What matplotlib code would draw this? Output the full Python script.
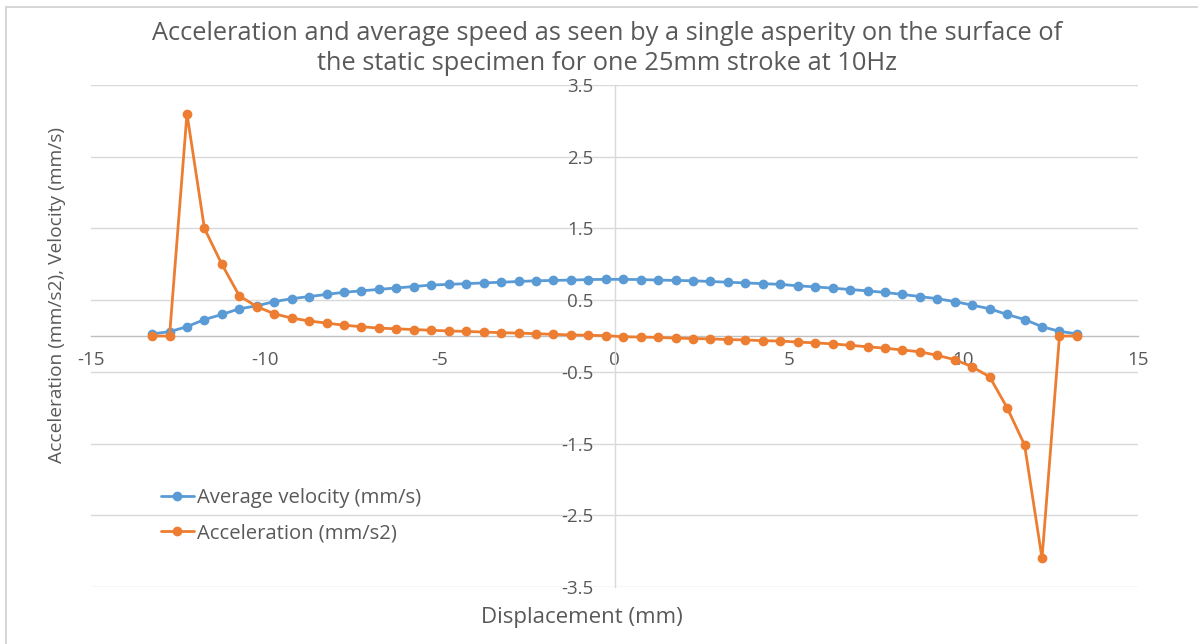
import matplotlib
matplotlib.use("Agg")
import matplotlib.pyplot as plt
import numpy as np

# Asperity positions along the stroke (mm)
displacement = [-13.25, -12.75, -12.25, -11.75, -11.25, -10.75, -10.25, -9.75, -9.25,
                -8.75, -8.25, -7.75, -7.25, -6.75, -6.25, -5.75, -5.25, -4.75, -4.25,
                -3.75, -3.25, -2.75, -2.25, -1.75, -1.25, -0.75, -0.25, 0.25, 0.75,
                1.25, 1.75, 2.25, 2.75, 3.25, 3.75, 4.25, 4.75, 5.25, 5.75, 6.25,
                6.75, 7.25, 7.75, 8.25, 8.75, 9.25, 9.75, 10.25, 10.75, 11.25, 11.75,
                12.25, 12.75, 13.25]

# Average velocity (mm/s)
velocity = [0.03, 0.06, 0.13, 0.23, 0.30, 0.38, 0.42, 0.48, 0.52,
            0.55, 0.58, 0.61, 0.63, 0.65, 0.67, 0.69, 0.71, 0.72, 0.73,
            0.74, 0.75, 0.76, 0.77, 0.775, 0.78, 0.787, 0.79, 0.79, 0.787,
            0.78, 0.775, 0.77, 0.76, 0.75, 0.74, 0.73, 0.72, 0.70, 0.685, 0.667,
            0.648, 0.63, 0.607, 0.58, 0.55, 0.52, 0.48, 0.43, 0.38, 0.30, 0.23,
            0.13, 0.065, 0.03]

# Acceleration (mm/s2)
acceleration = [0.0, 0.0, 3.1, 1.5, 1.0, 0.56, 0.41, 0.31, 0.25,
                0.21, 0.18, 0.15, 0.13, 0.11, 0.10, 0.09, 0.08, 0.07, 0.064,
                0.055, 0.046, 0.041, 0.032, 0.023, 0.015, 0.01, 0.005, -0.01, -0.015,
                -0.02, -0.03, -0.035, -0.04, -0.05, -0.055, -0.065, -0.07, -0.085, -0.095, -0.11,
                -0.13, -0.15, -0.17, -0.195, -0.22, -0.27, -0.33, -0.43, -0.57, -1.0, -1.52,
                -3.1, 0.0, 0.0]

x_ticks = [-15, -10, -5, 0, 5, 10, 15]
y_ticks = [-3.5, -2.5, -1.5, -0.5, 0.5, 1.5, 2.5, 3.5]
y_tick_labels = ["-3.5", "-2.5", "-1.5", "-0.5", "0.5", "1.5", "2.5", "3.5"]

BLUE = "#5B9BD5"
ORANGE = "#ED7D31"
TEXT = "#595959"
GRID = "#D9D9D9"
FONT = "Open Sans"

fig = plt.figure(figsize=(11.98, 6.44), dpi=100)
fig.patch.set_facecolor("white")

# Outer chart frame
frame = plt.Rectangle((6 / 1198, -0.1), 1.2, (644 - 7) / 644 + 0.1, transform=fig.transFigure,
                      fill=False, edgecolor="#D0D0D0", linewidth=1.2)
fig.add_artist(frame)

ax = fig.add_axes([91 / 1198, (644 - 587) / 644, (1138 - 91) / 1198, (587 - 85) / 644])
ax.set_xlim(-15, 15)
ax.set_ylim(-3.5, 3.5)

for yv in y_ticks:
    ax.axhline(yv, color=GRID, linewidth=1.0, zorder=0)

ax.plot(displacement, velocity, color=BLUE, linewidth=2.0, marker="o", markersize=6,
        label="Average velocity (mm/s)", zorder=3, solid_capstyle="round")
ax.plot(displacement, acceleration, color=ORANGE, linewidth=2.0, marker="o", markersize=6,
        label="Acceleration (mm/s2)", zorder=4, solid_capstyle="round")

for side in ["top", "right"]:
    ax.spines[side].set_visible(False)
ax.spines["left"].set_position(("data", 0))
ax.spines["bottom"].set_position(("data", 0))
ax.spines["left"].set_color(GRID)
ax.spines["bottom"].set_color("#BFBFBF")
ax.spines["left"].set_linewidth(1.0)
ax.spines["bottom"].set_linewidth(1.0)

ax.set_xticks(x_ticks)
ax.set_xticklabels([str(v) for v in x_ticks])
ax.set_yticks(y_ticks)
ax.set_yticklabels(y_tick_labels)
ax.tick_params(axis="both", length=0, labelcolor=TEXT, labelsize=13.5)
ax.tick_params(axis="x", pad=11)
ax.tick_params(axis="y", pad=15)
for lbl in ax.get_xticklabels() + ax.get_yticklabels():
    lbl.set_fontfamily(FONT)

fig.text(607 / 1198, 1 - 34 / 644, "Acceleration and average speed as seen by a single asperity on the surface of",
         ha="center", va="center", fontsize=18.3, color=TEXT, family=FONT)
fig.text(607 / 1198, 1 - 63 / 644, "the static specimen for one 25mm stroke at 10Hz",
         ha="center", va="center", fontsize=18.3, color=TEXT, family=FONT)

fig.text(57 / 1198, 1 - 295 / 644, "Acceleration (mm/s2), Velocity (mm/s)", rotation=90,
         ha="center", va="center", fontsize=13.8, color=TEXT, family=FONT)
fig.text(582 / 1198, 1 - 618 / 644, "Displacement (mm)",
         ha="center", va="center", fontsize=16, color=TEXT, family=FONT)

leg = ax.legend(loc="upper left", bbox_to_anchor=(153 / 1198, 1 - 480 / 644),
                bbox_transform=fig.transFigure, frameon=False, handlelength=1.6,
                handletextpad=0.15, labelspacing=0.75, borderaxespad=0,
                prop={"family": FONT, "size": 14.6})
for t in leg.get_texts():
    t.set_color(TEXT)

fig.savefig("out.png", dpi=100, facecolor="white")
